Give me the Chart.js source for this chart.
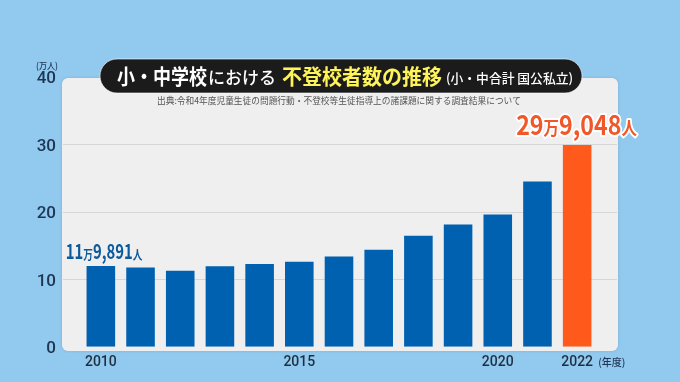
<!DOCTYPE html>
<html lang="ja">
<head>
<meta charset="utf-8">
<title>小・中学校における不登校者数の推移</title>
<script src="https://cdn.jsdelivr.net/npm/chart.js@4/dist/chart.umd.min.js"></script>
<style>
    html, body { margin: 0; padding: 0; background: #92c9ee; }
    canvas { display: block; }
</style>
</head>
<body>
<canvas id="futoukouChart" width="680" height="382"></canvas>
<script>
// 年度
const years = ["2010", "2011", "2012", "2013", "2014", "2015", "2016",
    "2017", "2018", "2019", "2020", "2021", "2022"];
// 不登校者数 (万人)
const students = [11.99, 11.75, 11.27, 11.96, 12.29, 12.60, 13.37,
    14.40, 16.45, 18.13, 19.61, 24.49, 29.90];
const xTickLabels = ["2010", "2015", "2020", "2022"];
const yTicks = [0, 10, 20, 30, 40];

const JP = '"Noto Sans CJK JP", sans-serif';

// 横幅に収まるように横方向だけ縮める
function fitText(ctx, text, x, y, w, font, color, align) {
    ctx.save();
    ctx.font = font;
    const m = ctx.measureText(text).width;
    const s = m > w ? w / m : 1;
    ctx.translate(x, y);
    ctx.scale(s, 1);
    ctx.fillStyle = color;
    ctx.textBaseline = "alphabetic";
    ctx.textAlign = align || "left";
    ctx.fillText(text, 0, 0);
    ctx.restore();
    return m * s;
}

function roundRect(ctx, x, y, w, h, r) {
    ctx.beginPath();
    ctx.roundRect(x, y, w, h, r);
}

// 「11万9,891人」のような数字＋単位のラベル
function drawAmount(ctx, parts, x, y, scaleX, color, outline) {
    ctx.save();
    ctx.translate(x, y);
    ctx.scale(scaleX, 1);
    let cx = 0;
    parts.forEach(([text, size]) => {
        ctx.font = "bold " + size + "px " + JP;
        if (outline) {
            ctx.lineWidth = 4;
            ctx.strokeStyle = "#ffffff";
            ctx.lineJoin = "round";
            ctx.strokeText(text, cx, 0);
        }
        ctx.fillStyle = color;
        ctx.fillText(text, cx, 0);
        cx += ctx.measureText(text).width;
    });
    ctx.restore();
}

const decoPlugin = {
    id: "deco",
    beforeDraw(chart) {
        const ctx = chart.ctx;
        ctx.save();
        ctx.fillStyle = "#92c9ee";
        ctx.fillRect(0, 0, chart.width, chart.height);
        // パネル
        ctx.shadowColor = "rgba(0,0,0,0.12)";
        ctx.shadowBlur = 3;
        ctx.fillStyle = "#efefef";
        roundRect(ctx, 62, 78, 556, 273, 6);
        ctx.fill();
        ctx.restore();
    },
    beforeDatasetsDraw(chart) {
        const ctx = chart.ctx;
        const y = chart.scales.y;
        ctx.save();
        ctx.strokeStyle = "#d6d6d6";
        ctx.lineWidth = 1;
        yTicks.forEach((v) => {
            if (v === 0 || v === 40) return;
            const py = Math.round(y.getPixelForValue(v)) + 0.5;
            ctx.beginPath();
            ctx.moveTo(63, py);
            ctx.lineTo(617, py);
            ctx.stroke();
        });
        ctx.restore();
    },
    afterDraw(chart) {
        const ctx = chart.ctx;
        const xs = chart.scales.x;
        const ys = chart.scales.y;

        // タイトル
        ctx.save();
        ctx.fillStyle = "#1b1b1b";
        ctx.strokeStyle = "rgba(255,255,255,0.6)";
        ctx.lineWidth = 1;
        roundRect(ctx, 100, 59, 482, 34, 17);
        ctx.fill();
        ctx.stroke();
        ctx.restore();
        fitText(ctx, "小・中学校", 117, 84, 90, "bold 21px " + JP, "#ffffff");
        fitText(ctx, "における", 208, 84, 72, "500 17px " + JP, "#ffffff");
        fitText(ctx, "不登校者数の推移", 282, 84, 160, "bold 21px " + JP, "#fff35a");
        fitText(ctx, "(小・中合計 国公私立)", 446, 83, 127, "500 13px " + JP, "#ffffff");

        // 出典
        fitText(ctx, "出典:令和4年度児童生徒の問題行動・不登校等生徒指導上の諸課題に関する調査結果について",
            339, 104, 364, "9px " + JP, "#555555", "center");

        // 単位
        fitText(ctx, "(万人)", 47, 69, 22, "500 9px " + JP, "#1e3553", "center");
        const last = xs.ticks.length - 1;
        const x2022 = xs.getPixelForValue(last);
        fitText(ctx, "(年度)", x2022 + 21, 366, 28, "500 10px " + JP, "#1e3553");

        // 数値ラベル
        const x0 = xs.getPixelForValue(0);
        const y0 = ys.getPixelForValue(students[0]);
        drawAmount(ctx, [["11", 20], ["万", 13], ["9,891", 20], ["人", 13]],
            x0 - 35, y0 - 7, 0.74, "#0b5a9c", false);
        const yl = ys.getPixelForValue(students[last]);
        drawAmount(ctx, [["29", 27], ["万", 18], ["9,048", 27], ["人", 18]],
            x2022 - 61, yl - 10, 0.86, "#f0582a", true);
    }
};

new Chart(document.getElementById("futoukouChart"), {
    type: "bar",
    data: {
        labels: years,
        datasets: [
            {
                label: "不登校者数",
                data: students,
                backgroundColor: years.map((y, i) =>
                    i === years.length - 1 ? "#ff5a1c" : "#0061b0"),
                borderWidth: 0,
                barPercentage: 0.72,
                categoryPercentage: 1,
            },
        ],
    },
    options: {
        responsive: false,
        animation: false,
        devicePixelRatio: 1,
        layout: {
            padding: { top: 77, left: 0, right: 83, bottom: 0 },
        },
        scales: {
            x: {
                grid: { display: false, drawTicks: false },
                border: { display: false },
                ticks: {
                    autoSkip: false,
                    maxRotation: 0,
                    padding: 7,
                    color: "#1e3040",
                    font: { family: "Roboto", size: 14, weight: "500" },
                    callback: function (val, i) {
                        return xTickLabels.includes(years[i]) ? years[i] : "";
                    },
                },
                afterFit: function (scale) {
                    scale.height = 32;
                },
            },
            y: {
                min: 0,
                max: 40,
                grid: { display: false, drawTicks: false },
                border: { display: false },
                ticks: {
                    stepSize: 10,
                    padding: 25,
                    labelOffset: 2,
                    color: "#1e3553",
                    font: { family: "Roboto", size: 17, weight: "500" },
                },
                afterFit: function (scale) {
                    scale.width = 81;
                },
            },
        },
        plugins: {
            legend: { display: false },
            tooltip: { enabled: false },
        },
    },
    plugins: [decoPlugin],
});
</script>
</body>
</html>
